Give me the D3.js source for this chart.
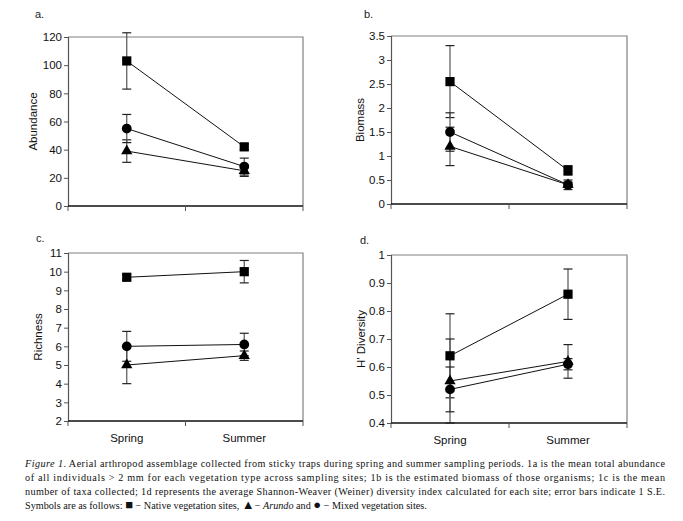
<!DOCTYPE html>
<html>
<head>
<meta charset="utf-8">
<script src="https://cdn.jsdelivr.net/npm/d3@7"></script>
<style>
  body { margin: 0; background: #fff; }
  svg { display: block; }
</style>
</head>
<body>
<svg id="fig" width="683" height="521"></svg>
<script>
const seasons = ["Spring", "Summer"];
const sites = ["Native", "Arundo", "Mixed"];
const shapes = { Native: "square", Arundo: "triangle", Mixed: "circle" };

// mean values [spring, summer] and 1 S.E.
const abundance = { Native: [103, 42], Arundo: [39, 25], Mixed: [55, 28] };
const abundanceSE = { Native: [20, 2], Arundo: [8, 4], Mixed: [10, 6] };
const biomass = { Native: [2.55, 0.7], Arundo: [1.2, 0.4], Mixed: [1.5, 0.4] };
const biomassSE = { Native: [0.75, 0.1], Arundo: [0.4, 0.05], Mixed: [0.4, 0.1] };
const richness = { Native: [9.7, 10], Arundo: [5, 5.5], Mixed: [6, 6.1] };
const richnessSE = { Native: [0.15, 0.6], Arundo: [1, 0.25], Mixed: [0.8, 0.6] };
const diversity = { Native: [0.64, 0.86], Arundo: [0.55, 0.62], Mixed: [0.52, 0.61] };
const diversitySE = { Native: [0.15, 0.09], Arundo: [0.15, 0.06], Mixed: [0.08, 0.02] };

const abundanceTicks = [0, 20, 40, 60, 80, 100, 120];
const biomassTicks = [0, 0.5, 1, 1.5, 2, 2.5, 3, 3.5];
const richnessTicks = [2, 3, 4, 5, 6, 7, 8, 9, 10, 11];
const diversityTicks = [0.4, 0.5, 0.6, 0.7, 0.8, 0.9, 1];

const panels = [
  { tag: "a.", title: "Abundance", mean: abundance, se: abundanceSE, ticks: abundanceTicks,
    x0: 68, x1: 303, y0: 37, y1: 206, tagX: 35, tagY: 18, titleX: 37, xLabels: false },
  { tag: "b.", title: "Biomass", mean: biomass, se: biomassSE, ticks: biomassTicks,
    x0: 391, x1: 627, y0: 36, y1: 204, tagX: 364, tagY: 18, titleX: 364, xLabels: false },
  { tag: "c.", title: "Richness", mean: richness, se: richnessSE, ticks: richnessTicks,
    x0: 68, x1: 303, y0: 253, y1: 421, tagX: 36, tagY: 242, titleX: 42, xLabels: true },
  { tag: "d.", title: "H' Diversity", mean: diversity, se: diversitySE, ticks: diversityTicks,
    x0: 391, x1: 627, y0: 255, y1: 423, tagX: 360, tagY: 244, titleX: 365, xLabels: true }
];

const svg = d3.select("#fig");
const font = "'Liberation Sans', Arial, sans-serif";

panels.forEach(p => {
  const g = svg.append("g");
  const y = d3.scaleLinear()
    .domain(d3.extent(p.ticks))
    .range([p.y1, p.y0]);
  const x = d3.scalePoint()
    .domain(seasons)
    .range([p.x0, p.x1])
    .padding(0.5);

  // frame top/right
  g.append("path")
    .attr("d", `M${p.x0},${p.y0}H${p.x1}V${p.y1}`)
    .attr("fill", "none")
    .attr("stroke", "#808080")
    .attr("stroke-width", 1.2);

  // y axis
  const yAxis = g.append("g")
    .attr("transform", `translate(${p.x0},0)`)
    .call(d3.axisLeft(y).tickValues(p.ticks).tickSize(4).tickPadding(2)
      .tickFormat(d3.format("~g")));
  yAxis.select(".domain").attr("stroke", "#555").attr("stroke-width", 1.2);
  yAxis.selectAll(".tick line").attr("stroke", "#555");
  yAxis.selectAll("text")
    .attr("font-family", font)
    .attr("font-size", 11.5)
    .attr("fill", "#111");

  // x axis: ticks between categories
  const xAxis = g.append("g")
    .attr("transform", `translate(0,${p.y1})`);
  xAxis.append("line")
    .attr("x1", p.x0).attr("x2", p.x1)
    .attr("stroke", "#111").attr("stroke-width", 1.3);
  const mid = (x(seasons[0]) + x(seasons[1])) / 2;
  xAxis.selectAll("line.tk")
    .data([p.x0, mid, p.x1])
    .enter().append("line")
    .attr("class", "tk")
    .attr("x1", d => d).attr("x2", d => d)
    .attr("y1", 0).attr("y2", 5)
    .attr("stroke", "#555");
  if (p.xLabels) {
    xAxis.selectAll("text")
      .data(seasons)
      .enter().append("text")
      .attr("x", d => x(d))
      .attr("y", 21)
      .attr("text-anchor", "middle")
      .attr("font-family", font)
      .attr("font-size", 11.5)
      .attr("fill", "#111")
      .text(d => d);
  }

  // panel tag and y title
  g.append("text")
    .attr("x", p.tagX).attr("y", p.tagY)
    .attr("font-family", font).attr("font-size", 11).attr("fill", "#222")
    .text(p.tag);
  g.append("text")
    .attr("transform", `translate(${p.titleX},${(p.y0 + p.y1) / 2}) rotate(-90)`)
    .attr("text-anchor", "middle")
    .attr("font-family", font).attr("font-size", 11.5).attr("fill", "#111")
    .text(p.title);

  // error bars
  sites.forEach(s => {
    seasons.forEach((season, i) => {
      const m = p.mean[s][i], e = p.se[s][i];
      const cx = x(season);
      const lo = Math.max(m - e, y.domain()[0]);
      g.append("line")
        .attr("x1", cx).attr("x2", cx)
        .attr("y1", y(m + e)).attr("y2", y(lo))
        .attr("stroke", "#555").attr("stroke-width", 1.2);
      [m + e, m - e].forEach(v => {
        if (v < y.domain()[0]) return;
        g.append("line")
          .attr("x1", cx - 4.5).attr("x2", cx + 4.5)
          .attr("y1", y(v)).attr("y2", y(v))
          .attr("stroke", "#222").attr("stroke-width", 1.2);
      });
    });
  });

  // connecting lines
  const line = d3.line()
    .x((d, i) => x(seasons[i]))
    .y(d => y(d));
  sites.forEach(s => {
    g.append("path")
      .attr("d", line(p.mean[s]))
      .attr("fill", "none")
      .attr("stroke", "#111")
      .attr("stroke-width", 1);
  });

  // markers
  const sym = {
    square: d3.symbol().type(d3.symbolSquare).size(85),
    triangle: d3.symbol().type(d3.symbolTriangle).size(55),
    circle: d3.symbol().type(d3.symbolCircle).size(75)
  };
  sites.forEach(s => {
    g.selectAll(null)
      .data(p.mean[s])
      .enter().append("path")
      .attr("d", sym[shapes[s]])
      .attr("transform", (d, i) => `translate(${x(seasons[i])},${y(d)})`)
      .attr("fill", "#000");
  });
});

// caption
const cap = svg.append("text")
  .attr("font-family", "'Liberation Serif', 'Times New Roman', serif")
  .attr("font-size", 10.2)
  .attr("fill", "#111");

const capX = 25;
const capW = 640;
const l1 = cap.append("tspan").attr("x", capX).attr("y", 467).attr("textLength", capW).attr("lengthAdjust", "spacing");
l1.append("tspan").attr("font-style", "italic").text("Figure 1");
l1.append("tspan").text(". Aerial arthropod assemblage collected from sticky traps during spring and summer sampling periods. 1a is the mean total abundance");
cap.append("tspan").attr("x", capX).attr("y", 481).attr("textLength", capW).attr("lengthAdjust", "spacing")
  .text("of all individuals > 2 mm for each vegetation type across sampling sites; 1b is the estimated biomass of those organisms; 1c is the mean");
cap.append("tspan").attr("x", capX).attr("y", 495).attr("textLength", capW).attr("lengthAdjust", "spacing")
  .text("number of taxa collected; 1d represents the average Shannon-Weaver (Weiner) diversity index calculated for each site; error bars indicate 1 S.E.");
const l4 = cap.append("tspan").attr("x", capX).attr("y", 509);
l4.append("tspan").text("Symbols are as follows: ");
l4.append("tspan").attr("font-size", 13).text("\u25A0");
l4.append("tspan").text(" \u2212 Native vegetation sites, ");
l4.append("tspan").attr("font-size", 13).text("\u25B2");
l4.append("tspan").text("\u2212 ");
l4.append("tspan").attr("font-style", "italic").text("Arundo");
l4.append("tspan").text(" and ");
l4.append("tspan").attr("font-size", 13).text("\u25CF");
l4.append("tspan").text(" \u2212 Mixed vegetation sites.");
</script>
</body>
</html>
